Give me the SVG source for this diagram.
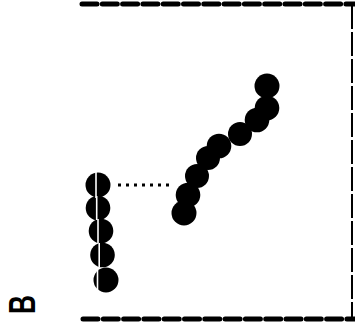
<svg xmlns="http://www.w3.org/2000/svg" width="355" height="332" viewBox="0 0 355 332">
<style>
.bead{fill:#000}
.split{stroke:#fff;stroke-width:1.6}
.hd{stroke:#000;stroke-width:5;stroke-dasharray:15 5.3;stroke-linecap:round;fill:none}
.vd{stroke:#000;stroke-width:2;stroke-dasharray:24 3;fill:none}
.dot{stroke:#000;stroke-width:3;stroke-dasharray:3 5;fill:none}
</style>
<rect width="355" height="332" fill="#fff"/>
<g id="frame">
<line class="hd" x1="82" y1="4" x2="355" y2="4"/>
<line class="hd" x1="83" y1="319" x2="355" y2="319"/>
<line class="vd" x1="352" y1="5" x2="352" y2="318"/>
</g>
<g id="connectors">
<line class="dot" x1="118" y1="185" x2="172" y2="185"/>
</g>
<g id="column">
<circle class="bead" cx="98" cy="185" r="12.5"/>
<circle class="bead" cx="98" cy="208" r="12.3"/>
<circle class="bead" cx="101" cy="231" r="12.3"/>
<circle class="bead" cx="102.5" cy="255" r="12.3"/>
<circle class="bead" cx="106" cy="280" r="12.5"/>
<line class="split" x1="96" y1="172" x2="96" y2="198"/>
<line class="split" x1="96.7" y1="196" x2="96.7" y2="220"/>
<line class="split" x1="98" y1="219" x2="98" y2="243"/>
<line class="split" x1="99.2" y1="243" x2="99.2" y2="267"/>
<line class="split" x1="97.5" y1="268" x2="97.5" y2="292" stroke-width="2.5"/>
</g>
<g id="chain">
<circle class="bead" cx="184" cy="213" r="12.5"/>
<circle class="bead" cx="188" cy="195" r="12.3"/>
<circle class="bead" cx="197" cy="176" r="12"/>
<circle class="bead" cx="208" cy="158" r="12"/>
<circle class="bead" cx="219" cy="146" r="12.3"/>
<circle class="bead" cx="240" cy="134" r="12"/>
<circle class="bead" cx="257" cy="120" r="12.3"/>
<circle class="bead" cx="267" cy="108" r="12.3"/>
<circle class="bead" cx="267" cy="86" r="12.5"/>
</g>
<g id="label">
<text transform="translate(35,314) rotate(-90)" x="0" y="0" font-family="Liberation Sans, Arial, sans-serif" font-weight="bold" font-size="36" textLength="19" lengthAdjust="spacingAndGlyphs">B</text>
</g>
</svg>
